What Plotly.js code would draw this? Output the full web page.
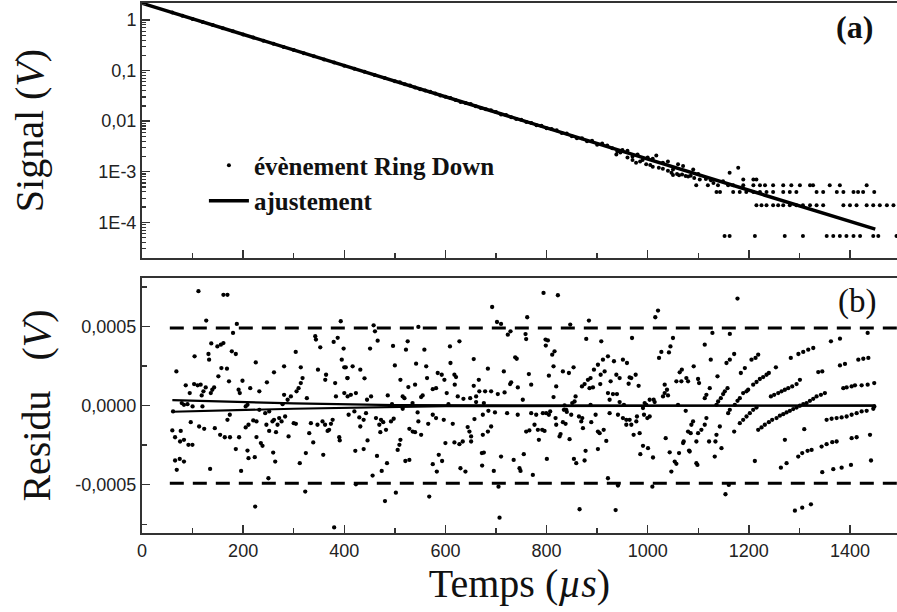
<!DOCTYPE html>
<html>
<head>
<meta charset="utf-8">
<script src="https://cdn.plot.ly/plotly-3.0.1.min.js"></script>
<style>html,body{margin:0;padding:0;background:#fff;}#chart{width:897px;height:612px;}</style>
</head>
<body>
<div id="chart"></div>
<script>
// ---------- Panel (a): signal (V) ----------
// fit line ("ajustement"), read at its two ends and middle
const fitTime = [0, 700, 1450];
const fitSignal = [2.14, 0.0149, 7.3e-5];

// ring-down points lying on the line (t < 700 us)
const topTimeA = [60,80,100,120,140,160,180,200,220,240,260,280,300,320,340,360,380,400,420,440,460,480,500,510,520,530,540,550,560,570,580,590,600,610,620,630,640,650,660,670,680,690];
const topSignalA = [1.40,1.21,1.05,0.913,0.792,0.687,0.597,0.518,0.449,0.390,0.338,0.294,0.255,0.221,0.192,0.166,0.144,0.125,0.109,0.0944,0.0819,0.0711,0.0617,0.0585,0.0535,0.0505,0.0464,0.0425,0.0403,0.0382,0.0350,0.0320,0.0303,0.0288,0.0263,0.0240,0.0229,0.0218,0.0198,0.0181,0.0172,0.0164];

// scattered points 700-1180 us
const topTimeB = [700,710,720,730,740,750,760,770,780,790,800,810,820,830,840,850,860,870,880,890,900,910,920,930,940,950,960,970,980,990,1000,1010,1017,1030,1040,1050,1060,1070,1080,1090,1100,1050,1062,1075,1085,1149,1162,1179];
const topSignalB = [0.0152,0.0135,0.0132,0.0120,0.0110,0.0107,0.0096,0.0092,0.0083,0.0081,0.0072,0.0070,0.0066,0.0058,0.0057,0.0050,0.0046,0.0046,0.0040,0.0041,0.0034,0.0036,0.0033,0.0029,0.0025,0.0027,0.0026,0.0020,0.0022,0.0017,0.0019,0.0018,0.0021,0.0015,0.0016,0.0011,0.0014,0.0013,0.0008,0.0011,0.0009,0.00086,0.00085,0.00082,0.00083,0.00065,0.00095,0.0012];

// points falling just under the line, 930-1130 us
const topTimeC = [938,946,960,970,977,985,997,1005,1010,1022,1030,1040,1047,1058,1068,1092,1103,1115,1125,1130];
const topSignalC = [0.0022,0.0024,0.0019,0.0017,0.0015,0.0016,0.0014,0.00135,0.00125,0.0012,0.00115,0.00105,0.00095,0.0009,0.00088,0.00075,0.0007,0.00072,0.00068,0.0006];

// quantized levels at the end of the ring-down
const levelValues = [7.0e-4, 5.4e-4, 3.95e-4, 2.16e-4, 5.35e-5];
const levelTimes1 = [1189,1209,1215];
const levelTimes2 = [1096,1119,1139,1159,1169,1189,1209,1222,1232,1248,1268,1284,1301,1321,1327,1360,1380,1433];
const levelTimes3 = [1136,1143,1169,1182,1195,1209,1222,1235,1248,1268,1281,1294,1334,1347,1374,1387,1407,1416,1426,1448];
const levelTimes4 = [1215,1225,1235,1248,1258,1268,1281,1294,1307,1321,1334,1347,1387,1400,1413,1433,1446,1459,1473,1486];
const levelTimes5 = [1152,1162,1212,1271,1307,1354,1367,1380,1393,1407,1420,1446,1456,1492];

// ---------- Panel (b): residual (units of 1e-4 V) ----------
const resTime1 = [111.6,161,169,127,187.5,180,393,68,137,149,156,161,104,131.4,132.7,177.6,185.5,157,168,225,151,172,86.5,103,110,116,126,139,142.6,94.4,121.5,118,136,191,193.4,198.7,214,232,247,261,281,304,314,317.5,314,309.6,305.6,344,342.6,352.5,379,387,398.7,348,364,362.4,382,395,400,406,383.5,400,326,281,294.4,288,278,83,78.6,90,100,119.5,61.4,173.6,169,205,208.6,232,243.6,251.5,226.4,220,246,261,258,271.3,276,283,300,304.3,268,265,251.5,210.6,205,96.4,113,123,144,154.5,163.7,174,192,226.4,235,289.8,334,330.7,347,357,362,370,377,373.6,367,390,391,338.6,60,76.6,65.4,75.3,83,91.8,99.7,65.4,74.6,83,68.7,185.5,208.6,210.6,223,238.3,259.4,263.4,134.7,196,250,324,312,358.4,322.8,223.8,380];
const resVal1 = [7.23,7.0,7.0,5.37,5.16,4.59,5.33,2.16,3.93,3.74,3.85,3.95,3.11,3.26,2.9,3.43,3.26,2.37,2.33,2.73,1.85,1.53,1.28,1.36,1.28,1.32,1.15,1.0,1.15,0.79,0.9,0.64,0.79,1.0,0.79,1.57,1.1,0.9,1.47,2.1,2.48,3.39,2.42,1.74,1.42,1.1,0.9,4.17,4.38,3.68,4.02,4.28,3.6,2.27,1.95,1.63,1.42,2.9,2.42,1.74,0.58,0.79,0.47,0.68,0.58,0.37,0.09,0.05,0.16,0.09,-0.05,-0.05,-0.37,-0.58,-0.9,-0.05,0.05,-0.27,-0.48,-0.37,-1.0,-0.94,-1.21,-0.9,-1.0,-0.79,-1.0,-0.69,-1.11,-1.15,-1.21,-1.68,-1.6,-1.21,-1.38,-1.05,-1.32,-1.47,-1.43,-1.85,-2.0,-2.0,-2.0,-1.99,-2.37,-1.95,-1.11,-1.74,-1.21,-1.0,-1.21,-1.53,-0.9,-1.15,-1.6,-2.0,-2.2,-2.33,-1.57,-1.6,-2.0,-2.27,-2.16,-2.48,-2.48,-3.47,-3.37,-3.54,-4.06,-2.75,-2.84,-3.32,-3.26,-2.54,-2.97,-3.54,-4.0,-4.13,-4.59,-3.0,-3.64,-3.11,-5.43,-6.38,-7.7];

const resTime2 = [692.4,702,710,761.7,458,460.7,546.5,466,525.4,522,496.4,451,558.4,627.7,609,723.4,728.7,758.4,759.7,656,738,741,610,500,542,562,403,416.5,431.7,406.6,440,684,715.5,765,769.6,511,526.7,540,563.7,575,581.5,584.8,592.7,598,617.8,621,618.5,602.6,666,656,667,678.5,690.4,703.6,717,730,728,743.2,753,406.6,413,423,445,453,486,515.5,519,552,555,624.4,635.6,649,660.7,494.4,535,606,660.7,676,408.6,420,429.7,438.3,431.7,443,462.7,472.6,477,492.4,497.7,469.3,471.3,482.5,515.5,528.7,535.3,540,545,546.5,566,575,581.5,552,596.7,614.5,644,647.5,650.8,657.4,674,685,698,722,743,690.4,684,674,759.7,766,511,509,505.6,446,421.8,438.3,600,617.8,627.7,634.3,650.8,672,676,710,735,755,464.7,484.5,456,474,520.8,528.7,586.8,593.4,575,583,629.7,639.6,672.6,695.7,746.5,748.5,423,502,480.5,568,705,707];
const resVal2 = [6.23,5.28,5.16,5.58,5.07,4.69,4.97,4.1,4.06,3.53,3.77,3.6,3.53,4.06,3.74,4.48,4.69,4.52,4.2,2.94,3.05,2.96,2.69,2.54,2.65,2.48,2.42,2.48,2.27,1.74,1.72,2.33,2.16,1.99,1.32,1.63,1.17,1.32,1.74,1.04,1.1,2.06,1.95,1.63,1.95,1.8,1.32,0.79,1.63,1.25,0.9,0.9,0.9,0.73,0.83,1.47,1.36,1.15,0.37,0.58,0.68,0.79,0.37,0.58,0.64,0.58,0.47,0.54,0.64,0.58,0.43,0.47,0.58,0.09,0.16,0.09,0.22,0.16,-0.58,-0.37,-0.75,-0.9,-1.32,-0.48,-0.79,-0.9,-1.05,-1.0,-0.83,-1.21,-1.68,-1.53,-0.2,-1.47,-1.64,-1.68,-0.43,-1.0,-1.15,-0.58,-0.79,-1.85,-0.9,-1.15,-1.36,-1.64,-2.27,-0.85,-0.58,-0.33,-0.43,-0.48,-0.58,-1.32,-1.64,-1.85,-1.64,-1.57,-2.16,-2.48,-2.8,-2.2,-2.86,-2.75,-2.37,-2.33,-2.44,-2.27,-1.95,-3.0,-2.97,-3.22,-3.43,-3.07,-3.18,-3.64,-4.42,-4.13,-3.5,-3.43,-3.11,-3.5,-3.7,-4.17,-3.96,-4.17,-3.79,-4.13,-3.96,-4.13,-4.97,-5.5,-6.03,-5.75,-5.12,-7.08];

const resTime3 = [794,822.4,846.8,883.8,1020.4,1015,1128,798,802.6,798.5,878.5,908.2,969,1050,1045,1042,1027,1022.4,1112.8,1124.7,811.2,815.8,813.8,921.4,911.5,901.6,893.7,933.3,951,959,832.3,844.2,853.4,804.6,887,881.8,885,891.7,907,906.2,914.8,926.7,938,944.5,964.3,962.3,967.6,976.2,982.1,870,875.2,819.1,813.8,921.4,931.3,939.2,924.7,857.4,855.4,850.8,835.6,838.9,944.5,953,887,1033.6,1038.2,1040.2,1056.7,1066.6,1063.3,1067.5,1076.5,1079.8,1091,1099.6,1101.6,1116.1,1112.8,1122.7,1030.3,1033.6,1011.8,1013.8,1003.9,997.3,994,990.7,992.7,1003.9,999.3,1060,1075.2,1089.7,1086.4,1116.1,1112.8,769.6,779.5,792.7,799.3,807.2,804.6,776.2,791.4,796,782.8,784.8,817.8,819.1,832.3,837.6,834.3,840,848.8,864,868.6,872,870.6,888.4,897,901.6,905,913,924.7,941.2,951,957.7,964.3,967.6,977.5,978.8,957.7,972.2,984.1,827.7,825.7,845.5,918.1,901.6,877.2,875.2,854.1,858.7,800.6,990.7,1000.6,985.4,1010.5,1035.6,1043.5,1053.4,1056.7,1046.8,1062,1071.2,1070,1079.8,1085,1096.3,1099.6,1106.2,1083,1081.8,1096.3,1098.3,1121.4,1132.6,772.9,921.4,941.2,1009.2,865.3,936.6];
const resVal3 = [7.12,6.97,5.12,5.37,6.0,5.58,4.59,4.17,4.12,3.79,4.21,4.06,4.27,4.27,3.74,3.36,3.39,3.01,3.85,2.9,3.22,3.43,2.48,3.11,2.9,2.58,2.27,2.8,2.9,2.69,2.16,2.06,2.42,1.89,1.74,1.63,1.1,1.15,1.95,1.36,2.16,1.53,1.95,1.74,1.78,1.38,1.74,1.95,1.25,1.21,1.36,1.21,0.54,0.79,0.73,0.73,0.37,0.58,0.26,0.16,0.01,-0.27,0.22,0.05,0.05,1.32,1.0,0.64,1.53,1.53,2.1,2.27,1.74,1.53,2.48,1.68,1.42,0.68,0.47,1.1,0.58,0.79,0.37,0.22,0.37,0.05,0.16,-0.16,-0.58,-0.69,-0.79,0.05,-0.33,-1.0,-1.21,-0.79,-1.21,-0.48,-0.58,-0.48,-0.48,-0.37,-0.58,-1.21,-1.53,-1.6,-1.53,-2.16,-0.79,-1.21,-1.05,-1.15,-0.27,-0.4,-0.58,-0.69,-1.0,-1.43,-0.79,-1.05,-0.58,-1.64,-1.74,-1.53,-0.48,-0.58,-0.79,-0.9,-0.9,-1.21,-1.0,-0.69,-1.21,-1.85,-1.74,-1.8,-1.95,-2.12,-2.23,-2.75,-2.86,-3.47,-3.37,-3.64,-3.37,-2.54,-2.69,-3.07,-3.28,-2.06,-2.95,-3.54,-3.68,-4.17,-3.0,-2.27,-2.37,-1.64,-1.74,-2.27,-1.74,-1.53,-2.9,-2.84,-3.64,-3.75,-2.27,-3.22,-4.38,-4.59,-5.05,-5.12,-6.55,-6.6];

const resTime4 = [1177.6,1435,1162.4,1362.4,1380.2,1283,1298,1307.6,1317.5,1327.4,1155.8,1162.4,1171,1205.3,1213.2,1218.5,1192.1,1184.2,1253.5,1138,1208.6,1215.2,1221.8,1228.4,1235,1239.6,1195.4,1198.7,1188.8,1157.8,1152.5,1149.2,1144.6,1139.3,1136,1172.3,1177.6,1182.2,1243.6,1250.2,1258.1,1264.7,1271.3,1277.9,1285.8,1294.4,1301,1337.3,1345.2,1380.2,1390.1,1416.5,1426.4,1436.3,1386.8,1393.4,1403.3,1409.9,1423.1,1435,1448,1307.6,1314.2,1320.8,1327.4,1334,1342.6,1350.4,1254.8,1261.4,1268,1274.6,1281.2,1287.8,1294.4,1301,1218.5,1225.1,1231.7,1239.6,1246.2,1182.2,1188.8,1195.4,1202,1208.6,1215.2,1159.1,1162.4,1171,1142.6,1136,1134,1145.9,1309.6,1271.3,1353.8,1363.7,1373.6,1383.5,1393.4,1403.3,1413.2,1423.1,1433,1446.2,1448.2,1297.7,1305.6,1316.2,1324.1,1343.9,1353.8,1365,1373.6,1403.3,1413.2,1439.6,1211.9,1263.4,1274.6,1345.2,1367,1383.5,1402,1441.6,1160.4,1153.8,1291.1,1305.6,1322.8];
const resVal4 = [6.76,4.59,4.53,4.06,4.23,3.01,3.26,3.39,3.53,3.64,2.69,2.9,3.26,2.9,3.01,3.22,2.37,2.06,2.42,1.85,1.32,1.49,1.68,1.8,1.95,2.06,0.9,1.0,0.79,1.1,0.9,0.73,0.47,0.26,0.05,0.05,0.3,0.47,0.58,0.68,0.79,0.9,1.0,1.1,1.21,1.36,1.63,2.12,2.16,2.54,2.63,2.9,2.96,3.01,1.1,1.15,1.21,1.28,1.28,1.32,1.42,0.09,0.16,0.3,0.43,0.58,0.68,0.79,-0.79,-0.64,-0.54,-0.43,-0.33,-0.22,-0.12,-0.01,-1.53,-1.38,-1.21,-1.05,-0.9,-1.11,-0.9,-0.69,-0.48,-0.27,-0.12,-0.48,-0.27,-1.64,-1.32,-1.85,-2.27,-2.69,-1.49,-2.16,-0.9,-0.83,-0.79,-0.75,-0.69,-0.58,-0.48,-0.37,-0.33,-0.2,-0.05,-3.22,-3.0,-2.86,-2.8,-2.59,-2.44,-2.31,-2.27,-2.06,-2.0,-1.85,-3.5,-3.92,-3.64,-4.21,-4.02,-3.92,-3.75,-3.47,-5.01,-5.6,-6.64,-6.45,-6.24];

// fitted residual curves (units of 1e-4 V)
const resFitTimeUpper = [60, 300, 500, 1450];
const resFitUpper = [0.35, 0.14, 0.03, 0.0];
const resFitTimeLower = [60, 300, 600, 1450];
const resFitLower = [-0.39, -0.2, -0.04, 0.0];

// +/- limits (V)
const boundTime = [55, 1500];
const boundValue = 0.00049;

// tick labels
const topTickVals = [1e-4, 1e-3, 1e-2, 1e-1, 1];
const topTickText = ["1E-4", "1E-3", "0,01", "0,1", "1"];
const resTickVals = [-0.0005, 0, 0.0005];
const resTickText = ["-0,0005", "0,0000", "0,0005"];

// ---------- build ----------
const topX = topTimeA.concat(topTimeB, topTimeC, levelTimes1, levelTimes2, levelTimes3, levelTimes4, levelTimes5);
const topY = topSignalA.concat(topSignalB, topSignalC,
  levelTimes1.map(() => levelValues[0]),
  levelTimes2.map(() => levelValues[1]),
  levelTimes3.map(() => levelValues[2]),
  levelTimes4.map(() => levelValues[3]),
  levelTimes5.map(() => levelValues[4]));
const resX = resTime1.concat(resTime2, resTime3, resTime4);
const resY = resVal1.concat(resVal2, resVal3, resVal4).map(v => v * 1e-4);

const minorLog = [];
for (let e = -5; e <= 0; e++) for (let m = 2; m <= 9; m++) minorLog.push(m * Math.pow(10, e));

const axisColor = '#333';
const serif = 'Liberation Serif, Times New Roman, serif';
const tickFont = {family: 'Liberation Sans, Arial, sans-serif', size: 18, color: '#222'};
const titleFont = {family: serif, size: 40, color: '#111'};

const traces = [
  {x: topX, y: topY, xaxis: 'x2', yaxis: 'y2', type: 'scatter', mode: 'markers',
   name: 'évènement Ring Down', marker: {color: '#000', size: 4}},
  {x: fitTime, y: fitSignal, xaxis: 'x2', yaxis: 'y2', type: 'scatter', mode: 'lines',
   name: 'ajustement', line: {color: '#000', width: 3.5}},
  {x: boundTime, y: [boundValue, boundValue], xaxis: 'x', yaxis: 'y', mode: 'lines', showlegend: false,
   line: {color: '#000', width: 3, dash: '14px,9px'}},
  {x: boundTime, y: [-boundValue, -boundValue], xaxis: 'x', yaxis: 'y', mode: 'lines', showlegend: false,
   line: {color: '#000', width: 3, dash: '14px,9px'}},
  {x: resFitTimeUpper, y: resFitUpper.map(v => v * 1e-4), xaxis: 'x', yaxis: 'y', mode: 'lines', showlegend: false,
   line: {color: '#000', width: 2.2}},
  {x: resFitTimeLower, y: resFitLower.map(v => v * 1e-4), xaxis: 'x', yaxis: 'y', mode: 'lines', showlegend: false,
   line: {color: '#000', width: 2.2}},
  {x: resX, y: resY, xaxis: 'x', yaxis: 'y', type: 'scatter', mode: 'markers', showlegend: false,
   marker: {color: '#000', size: 4.3}}
];

const xCommon = {
  range: [0, 1493], showgrid: false, zeroline: false, showline: true, mirror: true,
  linecolor: axisColor, linewidth: 2, ticks: 'inside', ticklen: 8, tickwidth: 1.5, tickcolor: axisColor,
  tickmode: 'linear', tick0: 0, dtick: 200,
  minor: {ticks: 'inside', ticklen: 5, tickwidth: 1.5, tickcolor: axisColor, dtick: 100, tick0: 0}
};

const layout = {
  width: 897, height: 612,
  margin: {l: 142, r: 0, t: 3, b: 79},
  paper_bgcolor: '#fff', plot_bgcolor: '#fff',
  showlegend: true,
  legend: {x: 0.082, y: 0.737, xanchor: 'left', yanchor: 'top', bgcolor: 'rgba(0,0,0,0)',
           font: {family: serif, size: 25, color: '#111', weight: 'bold'},
           tracegroupgap: 0, itemwidth: 40},
  xaxis: Object.assign({}, xCommon, {anchor: 'y', domain: [0, 1], tickfont: tickFont,
    title: {text: 'Temps (<i>µs</i>)', font: titleFont, standoff: 8}}),
  yaxis: {anchor: 'x', domain: [0, 0.4811], range: [-0.000805, 0.000806],
    showgrid: false, zeroline: false, showline: true, linecolor: axisColor, linewidth: 2,
    ticks: 'inside', ticklen: 8, tickwidth: 1.5, tickcolor: axisColor,
    tickmode: 'array', tickvals: resTickVals, ticktext: resTickText, tickfont: tickFont,
    minor: {ticks: 'inside', ticklen: 5, tickwidth: 1.5, tickcolor: axisColor, tickmode: 'array',
            tickvals: [-0.00075, -0.00025, 0.00025, 0.00075]},
    title: {text: 'Residu\u00a0\u00a0\u00a0(<i>V</i>)', font: titleFont, standoff: 12}},
  xaxis2: Object.assign({}, xCommon, {anchor: 'y2', domain: [0, 1], showticklabels: false, matches: 'x'}),
  yaxis2: {anchor: 'x2', domain: [0.5189, 1], type: 'log', range: [-4.706, 0.336],
    showgrid: false, zeroline: false, showline: true, linecolor: axisColor, linewidth: 2,
    ticks: 'inside', ticklen: 8, tickwidth: 1.5, tickcolor: axisColor,
    tickmode: 'array', tickvals: topTickVals, ticktext: topTickText, tickfont: tickFont,
    minor: {ticks: 'inside', ticklen: 4, tickwidth: 1.2, tickcolor: axisColor, tickmode: 'array', tickvals: minorLog},
    title: {text: 'Signal (<i>V</i>)', font: titleFont, standoff: 42}},
  annotations: [
    {xref: 'paper', yref: 'paper', x: 0.944, y: 0.9547, xanchor: 'center', yanchor: 'middle',
     text: '<b>(a)</b>', showarrow: false, font: {family: serif, size: 32, color: '#111'}},
    {xref: 'paper', yref: 'paper', x: 0.947, y: 0.4377, xanchor: 'center', yanchor: 'middle',
     text: '(b)', showarrow: false, font: {family: serif, size: 33, color: '#111'}}
  ]
};

Plotly.newPlot('chart', traces, layout, {displayModeBar: false, staticPlot: true});
</script>
</body>
</html>
